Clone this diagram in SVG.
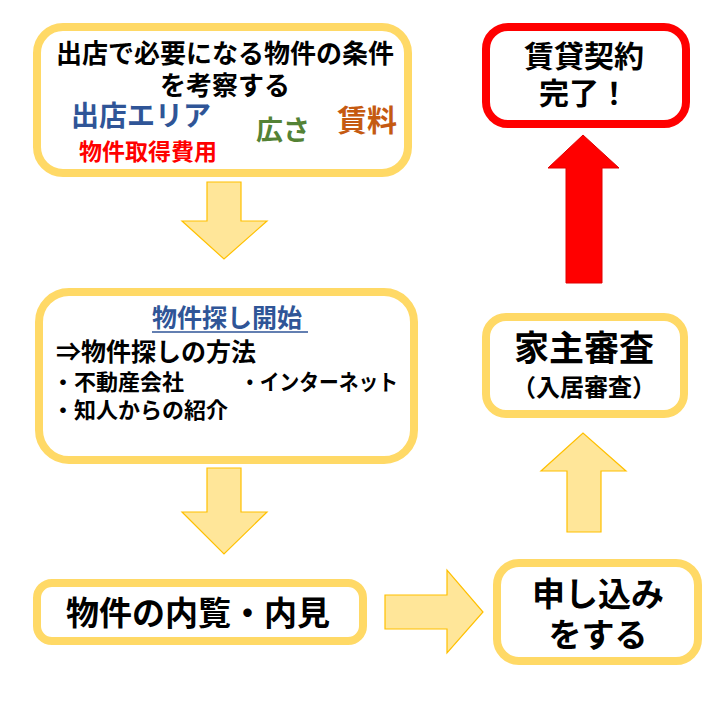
<svg xmlns="http://www.w3.org/2000/svg" width="718" height="720" viewBox="0 0 718 720">
<style>
.box{fill:#fff;stroke:#FFD966;stroke-width:8}
.red{fill:#fff;stroke:#FF0000;stroke-width:8}
.arr{fill:#FFE699;stroke:#FFC000;stroke-width:1.2}
text{font-family:"Noto Sans CJK JP","Noto Sans",sans-serif;font-weight:bold;fill:#000}
.c{text-anchor:middle}
</style>
<rect width="718" height="720" fill="#fff"/>
<g id="connectors">
<polygon class="arr" points="207,182 241,182 241,221 267,221 224,259 182,221 207,221"/>
<polygon class="arr" points="207,468 241,468 241,512 267,512 224,554 182,512 207,512"/>
<polygon class="arr" points="385,595 447,595 447,570 483,612 447,653 447,629 385,629"/>
<polygon class="arr" points="567,532 601,532 601,471 626,471 583,433 541,471 567,471"/>
<polygon fill="#FF0000" stroke="#E00000" stroke-width="1" points="566,283 602,283 602,168 619,168 583,135 548,168 566,168"/>
</g>
<g id="node-conditions">
<rect class="box" x="37" y="27" width="371" height="146" rx="26"/>
<text class="c" font-size="26"><tspan x="225" y="63">出店で必要になる物件の条件</tspan><tspan x="225" y="95">を考察する</tspan></text>
<text x="71" y="126" font-size="28" style="fill:#2F5597">出店エリア</text>
<text x="79" y="160" font-size="23" style="fill:#FF0000">物件取得費用</text>
<text x="256" y="140" font-size="27" style="fill:#548235">広さ</text>
<text x="337" y="131" font-size="30" style="fill:#C55A11">賃料</text>
</g>
<g id="node-search">
<rect class="box" x="39" y="292" width="375" height="168" rx="30"/>
<text x="152" y="327" font-size="25" style="fill:#2F5597">物件探し開始</text>
<line x1="152" y1="332" x2="308" y2="332" stroke="#2F5597" stroke-width="1.5"/>
<text font-size="22"><tspan x="56" y="361" font-size="25">⇒物件探しの方法</tspan><tspan x="52" y="390">・不動産会社</tspan><tspan x="52" y="418">・知人からの紹介</tspan></text>
<text x="240" y="390" font-size="22" textLength="158" lengthAdjust="spacingAndGlyphs">・インターネット</text>
</g>
<g id="node-viewing">
<rect class="box" x="37" y="583" width="326" height="58" rx="15"/>
<text class="c" x="198" y="625" font-size="33">物件の内覧・内見</text>
</g>
<g id="node-apply">
<rect class="box" x="497" y="563" width="201" height="98" rx="22"/>
<text class="c" font-size="33"><tspan x="598" y="606">申し込み</tspan><tspan x="598" y="647">をする</tspan></text>
</g>
<g id="node-screening">
<rect class="box" x="486" y="317" width="198" height="97" rx="20"/>
<text class="c"><tspan x="584" y="361" font-size="35">家主審査</tspan><tspan x="584" y="396" font-size="24">（入居審査）</tspan></text>
</g>
<g id="node-contract">
<rect class="red" x="486" y="27" width="200" height="97" rx="22"/>
<text class="c" font-size="30"><tspan x="584" y="67">賃貸契約</tspan><tspan x="584" y="104">完了！</tspan></text>
</g>
</svg>
